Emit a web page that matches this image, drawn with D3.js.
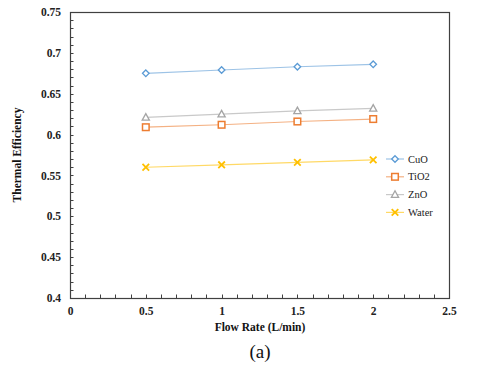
<!DOCTYPE html>
<html><head><meta charset="utf-8">
<script src="https://cdn.jsdelivr.net/npm/d3@7"></script>
<style>body{margin:0;background:#fff}svg{display:block}svg text{font-family:"Liberation Serif","Times New Roman",Times,serif}</style>
</head><body>
<script>
const flowRates = [0.5, 1, 1.5, 2];
const cuo = [0.675, 0.679, 0.683, 0.686];
const tio2 = [0.609, 0.612, 0.616, 0.619];
const zno = [0.621, 0.625, 0.629, 0.632];
const water = [0.560, 0.563, 0.566, 0.569];
const seriesNames = ["CuO", "TiO2", "ZnO", "Water"];
const xTicks = [0, 0.5, 1, 1.5, 2, 2.5];
const yTicks = [0.4, 0.45, 0.5, 0.55, 0.6, 0.65, 0.7, 0.75];

const series = [
  {name: seriesNames[0], vals: cuo, color: "#5B9BD5", line: "#9DC3E6", sym: "diamond"},
  {name: seriesNames[1], vals: tio2, color: "#ED7D31", line: "#F4B183", sym: "square"},
  {name: seriesNames[2], vals: zno, color: "#A5A5A5", line: "#C9C9C9", sym: "triangle"},
  {name: seriesNames[3], vals: water, color: "#FFC000", line: "#FFD966", sym: "cross"}
];

const W = 480, H = 365;
const svg = d3.select("body").append("svg").attr("width", W).attr("height", H);
const L = 70, R = 449, T = 12, B = 298;
const x = d3.scaleLinear().domain([0, 2.5]).range([L, R]);
const y = d3.scaleLinear().domain([0.4, 0.75]).range([B, T]);

// frame
svg.append("rect").attr("x", L + 0.5).attr("y", T + 0.5).attr("width", R - L).attr("height", B - T)
  .attr("fill", "none").attr("stroke", "#404040").attr("stroke-width", 1.2);

// minor ticks
const g = svg.append("g").attr("stroke", "#404040").attr("stroke-width", 1);
d3.range(0, 35).forEach(i => {
  const v = 0.4 + i * 0.01;
  g.append("line").attr("x1", L).attr("x2", L + 3.5).attr("y1", Math.round(y(v)) + 0.5).attr("y2", Math.round(y(v)) + 0.5);
});
d3.range(1, 25).forEach(i => {
  const v = i * 0.1;
  g.append("line").attr("x1", Math.round(x(v)) + 0.5).attr("x2", Math.round(x(v)) + 0.5).attr("y1", B).attr("y2", B - 3.5);
});

const yAxis = svg.append("g").attr("transform", `translate(${L},0)`)
  .call(d3.axisLeft(y).tickValues(yTicks).tickSize(0).tickPadding(9).tickFormat(d => d3.format("~g")(d)));
const xAxis = svg.append("g").attr("transform", `translate(0,${B})`)
  .call(d3.axisBottom(x).tickValues(xTicks).tickSize(0).tickPadding(9).tickFormat(d => d3.format("~g")(d)));
[yAxis, xAxis].forEach(a => {
  a.select(".domain").remove();
  a.attr("font-family", null);
  a.selectAll("text").attr("font-size", 11.5).attr("font-weight", "bold").attr("fill", "#222");
});

svg.append("text").attr("transform", `translate(21,${(T + B) / 2}) rotate(-90)`)
  .attr("text-anchor", "middle").attr("font-size", 11.5).attr("font-weight", "bold")
  .attr("fill", "#111").text("Thermal Efficiency");
svg.append("text").attr("x", 260).attr("y", 331).attr("text-anchor", "middle")
  .attr("font-size", 11.5).attr("font-weight", "bold").attr("fill", "#111").text("Flow Rate (L/min)");
svg.append("text").attr("x", 260).attr("y", 358).attr("text-anchor", "middle")
  .attr("font-size", 19).attr("fill", "#111").text("(a)");

function marker(sel, s, cx, cy) {
  if (s.sym === "diamond") {
    sel.append("path").attr("d", `M${cx},${cy - 3.3}L${cx + 3.3},${cy}L${cx},${cy + 3.3}L${cx - 3.3},${cy}Z`)
      .attr("fill", "#fff").attr("stroke", s.color).attr("stroke-width", 1.3);
  } else if (s.sym === "square") {
    sel.append("rect").attr("x", cx - 3.3).attr("y", cy - 3.3).attr("width", 6.6).attr("height", 6.6)
      .attr("fill", "#fff").attr("stroke", s.color).attr("stroke-width", 1.5);
  } else if (s.sym === "triangle") {
    sel.append("path").attr("d", `M${cx},${cy - 3.8}L${cx + 3.6},${cy + 2.8}L${cx - 3.6},${cy + 2.8}Z`)
      .attr("fill", "#fff").attr("stroke", s.color).attr("stroke-width", 1.3);
  } else {
    sel.append("path").attr("d", `M${cx - 3.3},${cy - 3.3}L${cx + 3.3},${cy + 3.3}M${cx + 3.3},${cy - 3.3}L${cx - 3.3},${cy + 3.3}`)
      .attr("stroke", s.color).attr("stroke-width", 1.8);
  }
}

const line = d3.line().x((d, i) => x(flowRates[i])).y(d => y(d));
series.forEach(s => {
  svg.append("path").datum(s.vals).attr("d", line).attr("fill", "none")
    .attr("stroke", s.line).attr("stroke-width", 1.2);
  const mg = svg.append("g");
  s.vals.forEach((v, i) => marker(mg, s, x(flowRates[i]), y(v)));
});

series.forEach((s, i) => {
  const ly = 159 + i * 17.8;
  svg.append("line").attr("x1", 386).attr("x2", 404).attr("y1", ly).attr("y2", ly)
    .attr("stroke", s.line).attr("stroke-width", 1.2);
  marker(svg, s, 395, ly);
  svg.append("text").attr("x", 408).attr("y", ly + 3.5).attr("font-size", 10.5)
    .attr("fill", "#222").text(s.name);
});
</script>
</body></html>
